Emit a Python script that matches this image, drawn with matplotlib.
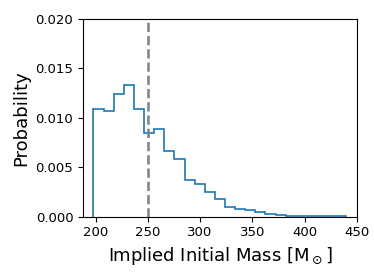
import numpy as np
import matplotlib
matplotlib.use('Agg')
import matplotlib.pyplot as plt

#- histogram bin edges (implied initial mass, Msun)
edge_lo = 198.0
edge_hi = 440.0
n_bins = 25

#- probability density in each bin
prob = [0.01091, 0.01065, 0.01239, 0.01333, 0.01088, 0.00848, 0.00883,
        0.00661, 0.00586, 0.00371, 0.00327, 0.00253, 0.00176, 0.00098,
        0.00075, 0.00068, 0.00044, 0.00030, 0.00017, 0.00010, 0.00007,
        0.00003, 0.00010, 0.00010, 0.00003]

cut_mass = 250

edges = np.linspace(edge_lo, edge_hi, n_bins + 1)

fig = plt.figure(figsize=(3.74, 2.8), dpi=100)
ax = fig.add_axes([0.222, 0.226, 0.732, 0.706])

ax.stairs(prob, edges, color='#1f77b4', linewidth=1.2)
ax.axvline(cut_mass, color='grey', linestyle='--', linewidth=1.8)

ax.set_xlim(188, 450)
ax.set_ylim(0, 0.020)
ax.set_xticks([200, 250, 300, 350, 400, 450])
ax.set_yticks([0.0, 0.005, 0.010, 0.015, 0.020])
ax.set_yticklabels(['0.000', '0.005', '0.010', '0.015', '0.020'])
ax.tick_params(labelsize=9.5)

ax.set_xlabel(r'Implied Initial Mass [M$_\odot$]', fontsize=13)
ax.set_ylabel('Probability', fontsize=13)

fig.savefig('out.png', dpi=100)
